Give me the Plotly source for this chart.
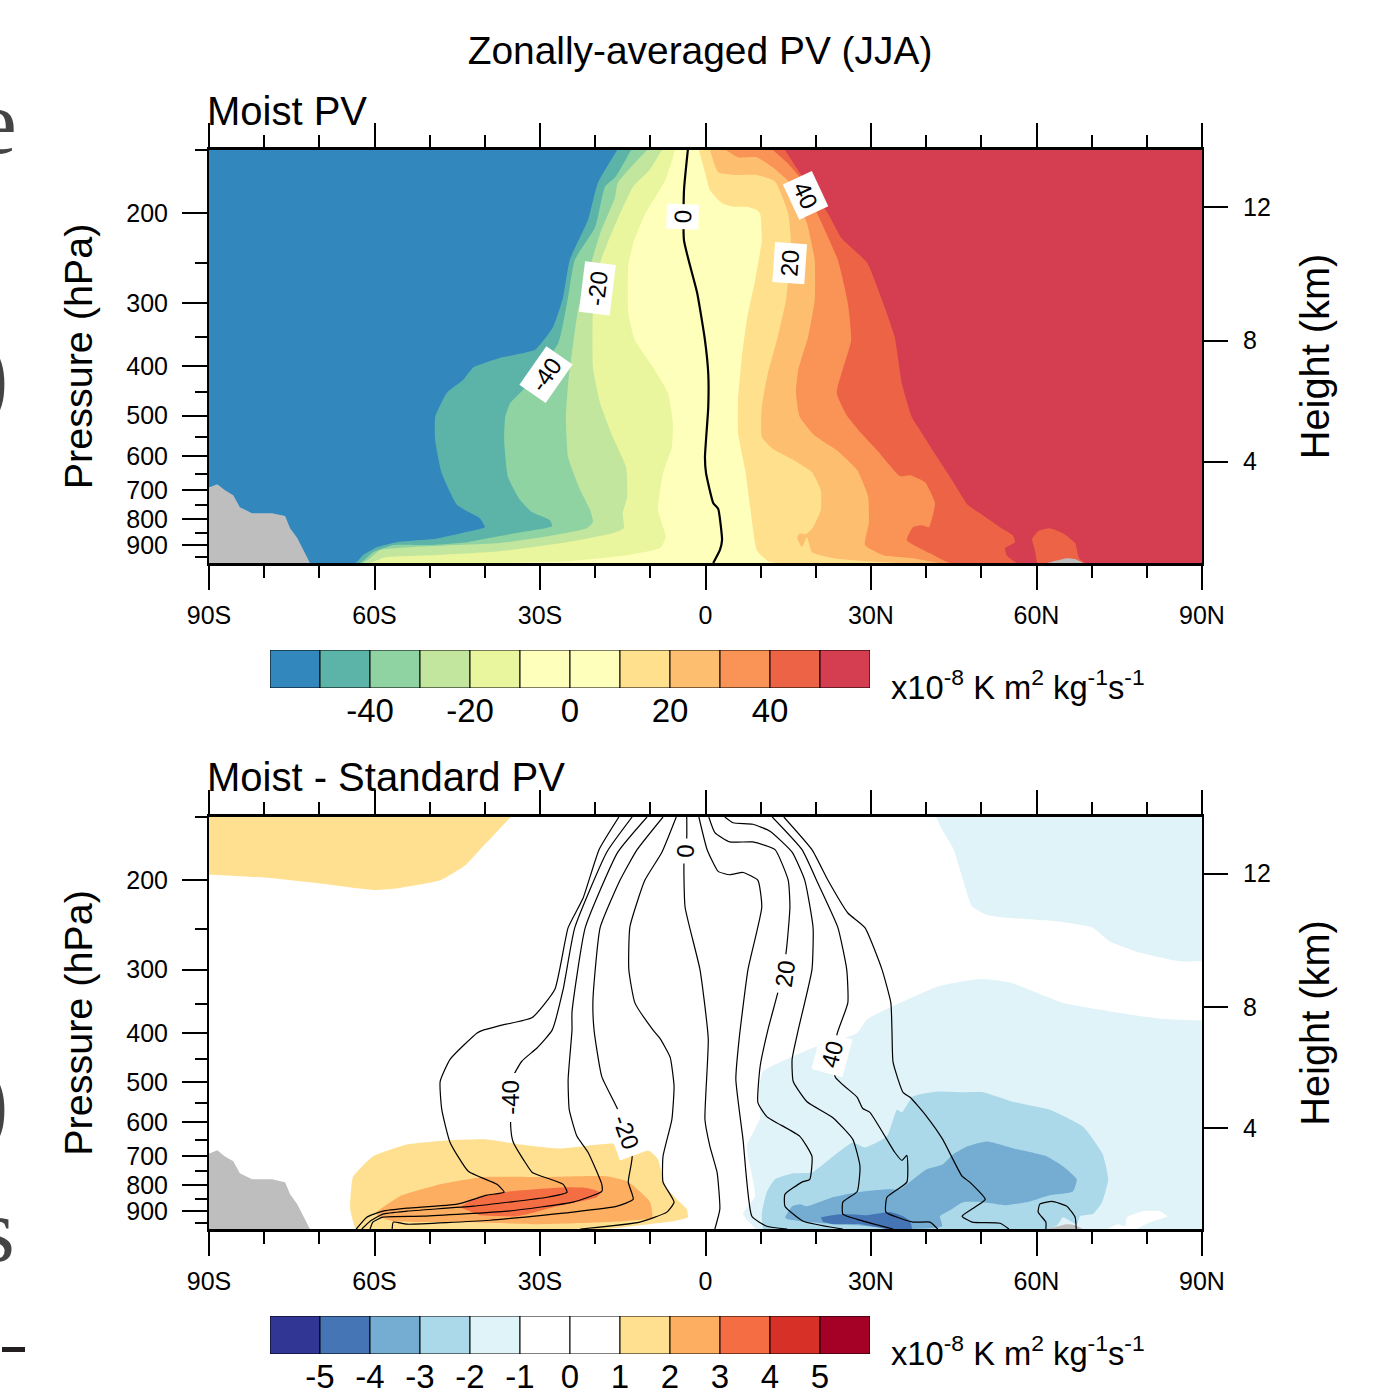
import math
import plotly.graph_objects as go

P_TOP, P_BOT = 150, 975
LAT_TICKS = [-90, -60, -30, 0, 30, 60, 90]
LAT_LABELS = ["90S", "60S", "30S", "0", "30N", "60N", "90N"]
LAT_MINOR = [-80, -70, -50, -40, -20, -10, 10, 20, 40, 50, 70, 80]
P_TICKS = [200, 300, 400, 500, 600, 700, 800, 900]
P_MINOR = [150, 250, 350, 450, 550, 650, 750, 850, 950]
HEIGHT_KM = ["12", "8", "4"]
HEIGHT_P = [194, 356, 616]

MOIST_LEVELS = [-60, -50, -40, -30, -20, -10, 0, 10, 20, 30, 40, 50, 60]
MOIST_COLORS = ["#3288BD", "#5CB4A9", "#90D3A3", "#C3E69F", "#E9F69E", "#FFFFBC", "#FFFFBC",
                "#FEE08D", "#FDBE6F", "#F99356", "#ED6346", "#D53D50"]
DIFF_LEVELS = [-6, -5, -4, -3, -2, -1, 0, 1, 2, 3, 4, 5, 6]
DIFF_COLORS = ["#313695", "#4575B4", "#74ADD1", "#ABD9E9", "#E0F3F8", "#FFFFFF", "#FFFFFF",
               "#FEE090", "#FDAE61", "#F46D43", "#D73027", "#A50026"]
GRAY = "#BEBEBE"

# (latitude, pressure hPa)
TERRAIN_S = [(-90, 691), (-89.8, 691), (-88.5, 682), (-87.1, 701), (-85.6, 717), (-84.4, 757), (-82.2, 778), (-78.6, 778),
             (-76.2, 788), (-75.3, 833), (-74.0, 871), (-72.6, 933), (-71.7, 975), (-90, 975)]
TERRAIN_N = [(61.9, 975), (63.9, 963), (65.5, 954), (67.0, 958), (68.4, 975)]

MOIST_M10 = [(-5.5, 150), (-7.3, 172), (-11.0, 201), (-13.1, 229), (-14.0, 254), (-14.0, 314), (-12.8, 355), (-9.5, 402),
             (-6.8, 451), (-5.9, 517), (-6.1, 577), (-7.7, 649), (-8.6, 767), (-7.2, 867), (-8.2, 911), (-14.2, 941),
             (-25.1, 967), (-37.3, 975)]
MOIST_M20 = [(-7.9, 150), (-10.1, 164), (-13.1, 177), (-16.0, 206), (-19.1, 250), (-20.4, 314), (-20.4, 402), (-19.1, 472),
             (-16.8, 551), (-14.4, 631), (-14.2, 723), (-15.0, 778), (-14.8, 833), (-16.8, 852), (-25.1, 887), (-37.3, 924),
             (-49.4, 941), (-58.1, 950), (-60.8, 975)]
MOIST_M30 = [(-10.6, 150), (-15.9, 174), (-16.4, 186), (-19.1, 219), (-23.1, 310), (-24.2, 376), (-24.9, 432), (-25.3, 503),
             (-24.9, 604), (-22.7, 701), (-20.9, 767), (-20.4, 810), (-21.5, 833), (-29.5, 867), (-37.3, 891), (-53.0, 907),
             (-59.0, 920), (-62.1, 975)]
MOIST_M40 = [(-13.5, 150), (-16.4, 170), (-18.2, 177), (-20.0, 213), (-23.7, 247), (-24.9, 292), (-26.7, 360), (-33.1, 445),
             (-35.4, 472), (-36.3, 503), (-36.5, 559), (-35.8, 661), (-33.6, 733), (-31.5, 774), (-28.2, 803), (-27.8, 825),
             (-33.6, 848), (-37.3, 863), (-43.2, 887), (-50.5, 899), (-56.6, 899), (-60.3, 929), (-62.6, 975)]
MOIST_M50 = [(-16.0, 150), (-19.5, 174), (-21.3, 206), (-24.6, 247), (-25.8, 292), (-27.6, 334), (-30.9, 371), (-37.3, 385),
             (-42.1, 402), (-44.0, 426), (-46.9, 451), (-49.0, 503), (-49.0, 559), (-47.8, 649), (-45.0, 750), (-40.9, 796),
             (-40.0, 829), (-42.7, 844), (-49.4, 875), (-55.9, 887), (-59.5, 907), (-62.1, 941), (-63.5, 975)]
MOIST_P10 = [(-1.2, 150), (-0.1, 166), (0.8, 180), (3.0, 191), (5.0, 194), (7.5, 194), (9.3, 197), (9.9, 200), (10.2, 226),
             (9.0, 270), (7.5, 324), (6.6, 383), (5.9, 466), (5.9, 541), (7.2, 640), (8.1, 757), (9.3, 920), (11.3, 967),
             (12.6, 975)]
MOIST_P20 = [(0.8, 150), (2.3, 166), (5.0, 168), (9.3, 168), (12.6, 173), (15.0, 200), (15.5, 229), (14.6, 296), (13.1, 350),
             (11.3, 413), (10.2, 481), (10.2, 551), (12.1, 580), (15.3, 606), (19.3, 646), (20.9, 701), (20.9, 767),
             (19.5, 829), (18.2, 856), (17.1, 852), (16.6, 871), (17.5, 907), (18.4, 867), (19.3, 929), (23.1, 954),
             (29.3, 967), (35.3, 975)]
MOIST_P30 = [(3.7, 150), (5.9, 155), (9.3, 155), (12.1, 162), (15.3, 174), (18.4, 209), (19.8, 247), (19.8, 296), (18.6, 350),
             (16.8, 407), (16.4, 451), (17.1, 503), (19.8, 547), (23.8, 585), (27.5, 640), (29.5, 723), (29.6, 814),
             (28.9, 899), (32.2, 941), (37.6, 954), (42.5, 975)]
MOIST_P40 = [(12.2, 150), (14.8, 159), (17.1, 170), (20.8, 206), (24.0, 247), (25.8, 300), (26.4, 355), (23.8, 451), (25.6, 499),
             (28.0, 538), (31.1, 585), (35.3, 658), (37.1, 655), (39.8, 676), (41.6, 743), (40.5, 829), (39.2, 822),
             (37.6, 829), (36.5, 879), (40.7, 933), (44.3, 975)]
MOIST_P50 = [(14.4, 150), (17.5, 169), (22.2, 200), (24.7, 224), (29.3, 250), (32.2, 300), (34.3, 350), (35.6, 432), (37.4, 503),
             (39.2, 541), (42.0, 604), (44.7, 670), (47.6, 750), (50.3, 785), (53.4, 829), (55.7, 860), (56.1, 887),
             (54.3, 911), (54.6, 941), (56.5, 975)]
MOIST_ISLAND = [(60.1, 975), (59.7, 920), (59.2, 875), (60.3, 844), (62.4, 833), (64.8, 852), (67.0, 891), (67.7, 954), (68.8, 975)]
MOIST_ZERO = [(-3.2, 150), (-3.9, 180), (-3.9, 226), (-1.5, 287), (-0.1, 355), (0.5, 413), (0.5, 481), (-0.1, 604), (0.1, 649),
              (1.4, 743), (2.3, 763), (3.0, 879), (2.6, 920), (1.4, 975)]

LINE_M50 = [(-15.7, 150), (-19.3, 174), (-22.2, 217), (-24.9, 248), (-27.3, 328), (-31.4, 373), (-37.3, 387), (-40.3, 395),
            (-41.4, 400), (-46.3, 451), (-48.1, 499), (-47.8, 567), (-46.3, 658), (-43.0, 750), (-37.8, 796), (-36.5, 825),
            (-39.6, 836), (-45.0, 871), (-54.1, 887), (-58.5, 899), (-61.4, 924), (-63.3, 975)]
LINE_M40 = [(-13.3, 150), (-17.9, 176), (-23.7, 248), (-25.8, 328), (-27.8, 395), (-30.5, 428), (-33.3, 455), (-35.1, 494),
            (-35.3, 615), (-34.9, 655), (-32.7, 720), (-31.4, 754), (-25.8, 796), (-25.1, 825), (-28.7, 844), (-42.1, 879),
            (-54.1, 899), (-58.5, 911), (-60.8, 941), (-62.3, 975)]
LINE_M30 = [(-10.6, 150), (-15.9, 176), (-21.8, 248), (-24.2, 364), (-24.2, 395), (-24.9, 494), (-24.7, 567), (-23.3, 640),
            (-21.3, 688), (-18.8, 796), (-18.8, 822), (-24.0, 863), (-36.0, 899), (-51.2, 920), (-58.5, 924), (-60.3, 945),
            (-60.8, 975)]
LINE_M20 = [(-7.7, 150), (-12.4, 174), (-15.5, 200), (-19.1, 248), (-20.4, 344), (-20.2, 395), (-18.8, 488), (-15.9, 567),
            (-13.3, 701), (-14.0, 788), (-13.1, 852), (-16.0, 879), (-24.0, 903), (-39.1, 937), (-54.1, 954), (-56.6, 945),
            (-56.8, 975)]
LINE_M10 = [(-5.3, 150), (-7.9, 176), (-11.0, 200), (-13.7, 247), (-13.9, 300), (-12.8, 349), (-9.5, 395), (-8.2, 411), (-6.4, 447),
            (-5.7, 510), (-6.1, 593), (-7.7, 701), (-7.7, 788), (-5.7, 863), (-7.0, 903), (-11.9, 945), (-22.7, 975)]
LINE_ZERO = [(-3.4, 150), (-3.4, 165), (-3.9, 185), (-3.7, 226), (-1.0, 300), (0.5, 411), (-0.1, 593), (0.8, 670), (2.1, 754),
             (2.6, 891), (1.7, 975)]
LINE_P10 = [(-1.2, 150), (0.3, 174), (2.3, 192), (4.4, 195), (6.8, 193), (9.5, 200), (10.2, 226), (7.7, 300), (6.1, 411), (5.5, 494),
            (6.8, 649), (8.4, 920), (11.1, 963), (14.8, 975)]
LINE_P20 = [(0.6, 150), (1.7, 161), (4.4, 168), (8.6, 168), (12.6, 174), (15.0, 200), (15.3, 226), (14.6, 278), (13.1, 333),
            (11.3, 395), (9.9, 466), (9.5, 549), (11.1, 585), (17.1, 640), (19.3, 701), (18.9, 778), (17.5, 788), (14.4, 833),
            (14.4, 879), (17.7, 941), (24.9, 975)]
LINE_P30 = [(3.5, 150), (5.0, 154), (8.6, 155), (11.7, 160), (15.7, 176), (18.0, 200), (19.5, 248), (19.3, 300), (16.8, 395),
            (15.7, 451), (15.9, 499), (18.4, 547), (23.1, 588), (26.7, 649), (28.0, 733), (27.5, 822), (24.9, 863), (24.9, 911),
            (27.5, 933), (34.0, 975)]
LINE_P40 = [(12.1, 150), (17.5, 174), (20.4, 203), (24.0, 248), (25.6, 300), (25.8, 349), (23.8, 404), (23.5, 488), (27.5, 536),
            (28.5, 564), (29.8, 574), (34.3, 688), (35.6, 714), (36.5, 698), (36.5, 788), (32.9, 844), (32.7, 903), (37.6, 945),
            (40.7, 945), (42.1, 975)]
LINE_P50 = [(14.2, 150), (19.3, 174), (22.2, 200), (25.8, 232), (28.9, 248), (32.0, 300), (33.6, 349), (33.8, 395), (34.0, 457),
            (35.8, 524), (37.1, 536), (40.1, 585), (43.0, 649), (46.5, 767), (47.9, 788), (50.7, 852), (48.8, 883), (46.5, 920),
            (48.3, 945), (53.4, 950), (55.0, 975)]
LINE_ISLAND = [(61.7, 975), (61.7, 945), (60.3, 903), (60.6, 871), (62.8, 860), (65.5, 879), (67.0, 924), (67.2, 975)]

DIFF_POS1_UPPER = [(-35.3, 150), (-38.2, 162), (-40.9, 174), (-43.6, 187), (-48.1, 200), (-55.4, 207), (-59.9, 209),
                   (-68.1, 204), (-78.9, 198), (-90, 195)]
DIFF_POS1_LOWER = [(-63.5, 975), (-64.4, 891), (-63.9, 770), (-60.3, 701), (-54.1, 664), (-46.9, 652), (-39.6, 649), (-33.6, 664),
                   (-26.4, 676), (-16.8, 661), (-10.1, 685), (-8.6, 711), (-7.3, 803), (-5.2, 852), (-3.4, 891), (-3.2, 924),
                   (-5.9, 941), (-11.9, 958), (-17.9, 975)]
DIFF_POS2 = [(-59.5, 899), (-55.4, 840), (-48.1, 796), (-40.3, 770), (-30.0, 770), (-17.9, 767), (-14.2, 785), (-10.1, 860),
             (-9.7, 924), (-17.9, 945), (-30.0, 954), (-45.0, 945), (-56.6, 941), (-59.5, 920)]
DIFF_POS3 = [(-44.5, 883), (-42.1, 852), (-36.7, 825), (-25.1, 807), (-21.3, 810), (-19.1, 825), (-19.7, 844), (-26.9, 879),
             (-34.2, 920), (-40.9, 916)]
DIFF_NEG1_UPPER = [(41.8, 150), (42.9, 159), (45.0, 174), (46.7, 200), (48.3, 225), (51.0, 234), (56.5, 238), (63.7, 241),
                   (70.2, 248), (73.3, 264), (78.8, 278), (86.0, 289), (90, 289)]
DIFF_NEG1_LOWER = [(90, 378), (82.4, 375), (73.3, 363), (64.8, 349), (55.2, 318), (49.8, 313), (42.5, 323), (35.3, 349), (29.3, 376),
                   (27.5, 400), (19.5, 428), (10.4, 477), (9.7, 517), (9.9, 588), (7.5, 670), (9.0, 840), (6.8, 911), (9.0, 975)]
DIFF_GAP = [(72.8, 975), (74.8, 954), (76.1, 963), (76.4, 924), (79.3, 899), (82.4, 899), (83.7, 920), (80.6, 945), (78.2, 975)]
DIFF_NEG2 = [(10.4, 975), (10.2, 911), (11.1, 825), (12.6, 778), (15.9, 757), (19.3, 754), (23.1, 701), (26.7, 658), (28.9, 673),
             (32.9, 640), (34.7, 567), (35.6, 574), (37.6, 534), (42.0, 522), (46.7, 524), (50.3, 524), (55.7, 547), (62.4, 567),
             (68.4, 612), (72.0, 694), (73.0, 778), (71.9, 863), (70.2, 911), (67.9, 920), (67.3, 954), (64.8, 924), (63.9, 954),
             (62.4, 975)]
DIFF_NEG3 = [(14.4, 924), (15.7, 879), (17.1, 871), (18.4, 879), (23.1, 844), (27.5, 825), (32.9, 814), (35.3, 814), (36.5, 796),
             (40.1, 743), (43.0, 727), (44.9, 694), (47.4, 670), (51.0, 655), (56.5, 679), (61.9, 701), (64.8, 733), (67.3, 778),
             (66.6, 822), (62.4, 836), (58.8, 860), (54.6, 875), (50.3, 863), (46.7, 863), (44.3, 895), (42.5, 920), (42.9, 963),
             (37.6, 975), (29.3, 963), (18.4, 945), (14.8, 933)]
DIFF_NEG4 = [(20.9, 924), (24.9, 911), (29.3, 916), (33.4, 903), (35.8, 920), (37.1, 941), (37.4, 975), (32.9, 975), (28.0, 954),
             (23.1, 954), (21.3, 945)]

# contour labels: text, latitude, pressure, angle, box width, box height
MOIST_LABELS = [("-40", -28.9, 415, -55, 46, 31), ("-20", -19.7, 281, -83, 50, 30), ("0", -4.1, 203, -88, 24, 31),
                ("20", 15.3, 250, -86, 39, 31), ("40", 18.2, 184, 65, 38, 31)]
DIFF_LABELS = [("-40", -35.4, 536, -90, 48, 27), ("-20", -14.4, 628, 70, 48, 30), ("0", -3.7, 175, -88, 24, 28),
               ("20", 14.4, 306, -82, 38, 28), ("40", 22.9, 441, -75, 38, 31)]

W, H = 1400, 1394
PANEL_X = [209 / W, 1202 / W]
TOP_Y = [1 - 563 / H, 1 - 150 / H]
BOT_Y = [1 - 1229 / H, 1 - 817 / H]
fig = go.Figure()
SMOOTH = 0.45


def poly(points, color, xa, ya, close=(), shape="spline"):
    pts = list(points) + list(close)
    ln = dict(width=0, color=color, shape=shape)
    if shape == "spline":
        ln["smoothing"] = SMOOTH
    fig.add_trace(go.Scatter(x=[p[0] for p in pts], y=[p[1] for p in pts], mode="lines", fill="toself",
                             fillcolor=color, line=ln, hoverinfo="skip",
                             showlegend=False, xaxis=xa, yaxis=ya))


def line(points, width, xa, ya):
    fig.add_trace(go.Scatter(x=[p[0] for p in points], y=[p[1] for p in points], mode="lines",
                             line=dict(width=width, color="black", shape="spline", smoothing=SMOOTH), hoverinfo="skip",
                             showlegend=False, xaxis=xa, yaxis=ya))


LEFT = [(-95, 1020), (-95, 140)]
RIGHT = [(95, 1020), (95, 140)]
# upper panel
poly([(-90, P_TOP), (90, P_TOP), (90, P_BOT), (-90, P_BOT)], MOIST_COLORS[5], "x", "y", shape="linear")
for c, col in [(MOIST_M10, MOIST_COLORS[4]), (MOIST_M20, MOIST_COLORS[3]), (MOIST_M30, MOIST_COLORS[2]),
               (MOIST_M40, MOIST_COLORS[1]), (MOIST_M50, MOIST_COLORS[0])]:
    poly(c, col, "x", "y", LEFT)
for c, col in [(MOIST_P10, MOIST_COLORS[7]), (MOIST_P20, MOIST_COLORS[8]), (MOIST_P30, MOIST_COLORS[9]),
               (MOIST_P40, MOIST_COLORS[10]), (MOIST_P50, MOIST_COLORS[11])]:
    poly(c, col, "x", "y", RIGHT)
poly(MOIST_ISLAND, MOIST_COLORS[10], "x", "y")
poly(TERRAIN_S, GRAY, "x", "y", shape="linear")
poly(TERRAIN_N, GRAY, "x", "y")
line(MOIST_ZERO, 2.2, "x", "y")
fig.add_trace(go.Scatter(x=[0, 0, 0], y=HEIGHT_P, mode="lines", line=dict(width=0), hoverinfo="skip",
                         showlegend=False, xaxis="x", yaxis="y2"))

# lower panel
poly(DIFF_POS1_UPPER, DIFF_COLORS[7], "x2", "y3", [(-95, 195), (-95, 140), (-35.3, 140)])
poly(DIFF_POS1_LOWER, DIFF_COLORS[7], "x2", "y3")
poly(DIFF_POS2, DIFF_COLORS[8], "x2", "y3")
poly(DIFF_POS3, DIFF_COLORS[9], "x2", "y3")
poly(DIFF_NEG1_UPPER, DIFF_COLORS[4], "x2", "y3", [(95, 289), (95, 140), (41.8, 140)])
poly(DIFF_NEG1_LOWER, DIFF_COLORS[4], "x2", "y3", [(9.0, 1020), (95, 1020), (95, 378)])
poly(DIFF_GAP, "#FFFFFF", "x2", "y3")
poly(DIFF_NEG2, DIFF_COLORS[3], "x2", "y3")
poly(DIFF_NEG3, DIFF_COLORS[2], "x2", "y3")
poly(DIFF_NEG4, DIFF_COLORS[1], "x2", "y3")
poly(TERRAIN_S, GRAY, "x2", "y3", shape="linear")
poly(TERRAIN_N, GRAY, "x2", "y3")
for c in [LINE_M50, LINE_M40, LINE_M30, LINE_M20, LINE_M10, LINE_ZERO, LINE_P10, LINE_P20, LINE_P30, LINE_P40, LINE_P50,
          LINE_ISLAND]:
    line(c, 1.2, "x2", "y3")
fig.add_trace(go.Scatter(x=[0, 0, 0], y=HEIGHT_P, mode="lines", line=dict(width=0), hoverinfo="skip",
                         showlegend=False, xaxis="x2", yaxis="y4"))


def colorbar(levels, colors, xa, ya):
    fig.add_trace(go.Bar(x=[levels[i + 1] - levels[i] for i in range(len(colors))], base=levels[:-1],
                         y=[0] * len(colors), orientation="h", width=1,
                         marker=dict(color=colors, line=dict(color="black", width=1)),
                         hoverinfo="skip", showlegend=False, xaxis=xa, yaxis=ya))


colorbar(MOIST_LEVELS, MOIST_COLORS, "x3", "y5")
colorbar(DIFF_LEVELS, DIFF_COLORS, "x4", "y6")

FONT = "Liberation Sans"
AXC = "black"


def xax(anchor):
    return dict(domain=PANEL_X, range=[-90, 90], anchor=anchor, tickmode="array", tickvals=LAT_TICKS, ticktext=LAT_LABELS,
                ticks="outside", ticklen=24, tickwidth=2, tickcolor=AXC, mirror="ticks", showline=True, linewidth=2.5,
                linecolor=AXC, showgrid=False, zeroline=False, ticklabelstandoff=4, tickfont=dict(size=25, family=FONT),
                minor=dict(tickmode="array", tickvals=LAT_MINOR, ticks="outside", ticklen=12, tickwidth=1.5,
                           tickcolor=AXC, showgrid=False))


def yax(dom, anchor):
    return dict(domain=dom, type="log", range=[math.log10(P_BOT), math.log10(P_TOP)], anchor=anchor, tickmode="array",
                tickvals=P_TICKS, ticktext=[str(v) for v in P_TICKS], ticks="outside", ticklen=25, tickwidth=2,
                tickcolor=AXC, showline=True, linewidth=2, linecolor=AXC, showgrid=False, zeroline=False,
                ticklabelstandoff=9, tickfont=dict(size=25, family=FONT),
                title=dict(text="Pressure (hPa)", font=dict(size=39.5, family=FONT), standoff=21),
                minor=dict(tickmode="array", tickvals=P_MINOR, ticks="outside", ticklen=12, tickwidth=1.5,
                           tickcolor=AXC, showgrid=False))


def y2ax(over, anchor):
    return dict(overlaying=over, side="right", type="log", range=[math.log10(P_BOT), math.log10(P_TOP)], anchor=anchor,
                tickmode="array", tickvals=HEIGHT_P, ticktext=HEIGHT_KM, ticks="outside", ticklen=24, tickwidth=2,
                tickcolor=AXC, showline=True, linewidth=2, linecolor=AXC, showgrid=False, zeroline=False,
                ticklabelstandoff=10, tickfont=dict(size=25, family=FONT),
                title=dict(text="Height (km)", font=dict(size=39.8, family=FONT), standoff=31))


def cbx(levels, ticks, labels, dom_anchor):
    return dict(domain=[270 / W, 870 / W], range=[levels[0], levels[-1]], anchor=dom_anchor, tickmode="array",
                tickvals=ticks, ticktext=labels, ticks="", showline=False, showgrid=False, zeroline=False,
                tickfont=dict(size=33, family=FONT))


def cby(dom, anchor):
    return dict(domain=dom, range=[-0.5, 0.5], anchor=anchor, visible=False, fixedrange=True)


annotations = []
for text, lat, p, ang, bw, bh in MOIST_LABELS:
    annotations.append(dict(text=text, x=lat, y=math.log10(p), xref="x", yref="y", textangle=ang, showarrow=False,
                            bgcolor="white", width=bw, height=bh, font=dict(size=24, family=FONT, color="black"),
                            borderpad=0, xanchor="center", yanchor="middle"))
for text, lat, p, ang, bw, bh in DIFF_LABELS:
    annotations.append(dict(text=text, x=lat, y=math.log10(p), xref="x2", yref="y3", textangle=ang, showarrow=False,
                            bgcolor="white", width=bw, height=bh, font=dict(size=24, family=FONT, color="black"),
                            borderpad=0, xanchor="center", yanchor="middle"))


def paper_text(text, xpx, ypx, size, family=FONT, xanchor="left", color="black", angle=0):
    annotations.append(dict(text=text, x=xpx / W, y=1 - ypx / H, xref="paper", yref="paper", showarrow=False,
                            xanchor=xanchor, yanchor="middle", textangle=angle,
                            font=dict(size=size, family=family, color=color)))


UNITS = "x10<sup>-8</sup> K m<sup>2</sup> kg<sup>-1</sup>s<sup>-1</sup>"
paper_text("Moist PV", 204.5, 111, 40)
paper_text("Moist - Standard PV", 204.5, 777, 40)
paper_text(UNITS, 889, 685, 32.7)
paper_text(UNITS, 889, 1351, 32.7)
# fragments of the neighbouring page text cut off at the left edge
SERIF = "Liberation Serif"
DARK = "#444444"
paper_text("e", 19, 122, 92, SERIF, "right", DARK)
paper_text(")", 11, 374, 105, SERIF, "right", DARK)
paper_text(")", 11, 1100, 105, SERIF, "right", DARK)
paper_text("s", 17, 1230, 92, SERIF, "right", DARK)

fig.update_layout(
    width=W, height=H, margin=dict(l=0, r=0, t=0, b=0, autoexpand=False), paper_bgcolor="white", plot_bgcolor="white",
    font=dict(family=FONT, color="black"), barmode="overlay", showlegend=False,
    title=dict(text="Zonally-averaged PV (JJA)", x=700 / W, y=1 - 50 / H, xanchor="center", yanchor="middle",
               font=dict(size=38.9, family=FONT, color="black")),
    xaxis=xax("y"), yaxis=yax(TOP_Y, "x"), yaxis2=y2ax("y", "x"),
    xaxis2=xax("y3"), yaxis3=yax(BOT_Y, "x2"), yaxis4=y2ax("y3", "x2"),
    xaxis3=cbx(MOIST_LEVELS, [-40, -20, 0, 20, 40], ["-40", "-20", "0", "20", "40"], "y5"),
    yaxis5=cby([1 - 688 / H, 1 - 650 / H], "x3"),
    xaxis4=cbx(DIFF_LEVELS, DIFF_LEVELS[1:-1], [str(v) for v in DIFF_LEVELS[1:-1]], "y6"),
    yaxis6=cby([1 - 1354 / H, 1 - 1316 / H], "x4"),
    annotations=annotations,
    shapes=[dict(type="rect", xref="paper", yref="paper", x0=2 / W, x1=25 / W, y0=1 - 1352 / H, y1=1 - 1347 / H,
                 fillcolor="#231F20", line=dict(width=0))],
)
fig.write_html("out.html", config={"displayModeBar": False}, post_script="document.body.style.margin='0';")
